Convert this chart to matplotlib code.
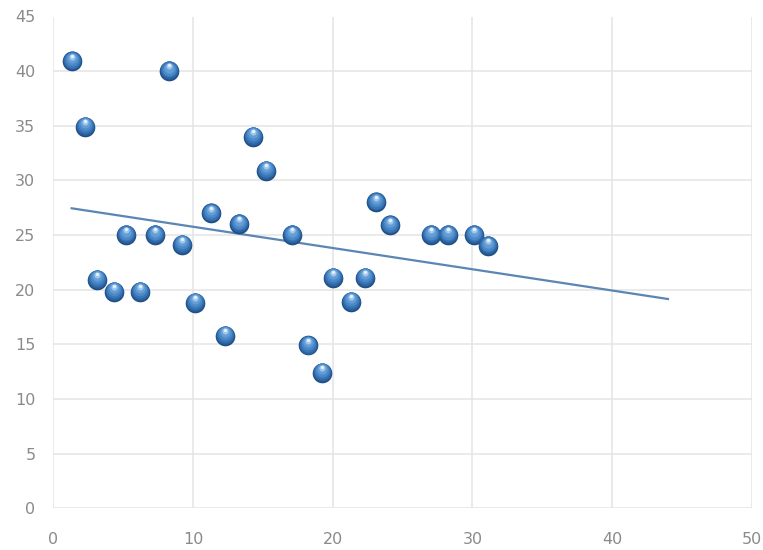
import numpy as np
import matplotlib
matplotlib.use("Agg")
import matplotlib.pyplot as plt
from matplotlib.transforms import ScaledTranslation

# Observations
x_vals = [1.3, 2.25, 3.1, 4.3, 5.2, 6.2, 7.25, 8.3, 9.2, 10.1, 11.3, 12.3,
          13.3, 14.3, 15.25, 17.1, 18.2, 19.2, 20.0, 21.3, 22.3, 23.1, 24.1,
          27.05, 28.25, 30.1, 31.1]
y_vals = [40.9, 34.9, 20.9, 19.8, 25.0, 19.8, 25.0, 40.0, 24.1, 18.8, 27.0,
          15.8, 26.0, 34.0, 30.9, 25.0, 14.9, 12.4, 21.1, 18.9, 21.1, 28.0,
          25.9, 25.0, 25.0, 25.0, 24.0]

x_ticks = [0, 10, 20, 30, 40, 50]
y_ticks = [0, 5, 10, 15, 20, 25, 30, 35, 40, 45]

# Linear trend, extended forward to x = 44
trend_end = 44

fig = plt.figure(figsize=(7.63, 5.5), dpi=100)
ax = fig.add_axes([0.0701, 0.0758, 0.9151, 0.8942])

ax.set_xlim(0, 50)
ax.set_ylim(0, 45)
ax.set_xticks(x_ticks)
ax.set_yticks(y_ticks)
ax.grid(True, color="#e4e4e4", linewidth=1.1)
ax.set_axisbelow(True)
for s in ax.spines.values():
    s.set_visible(False)
ax.tick_params(axis="both", length=0, labelsize=11.5, labelcolor="#8a8a8a")
ax.tick_params(axis="x", pad=17)
ax.tick_params(axis="y", pad=13)

# trend line
slope, intercept = np.polyfit(x_vals, y_vals, 1)
tx = np.array([min(x_vals), trend_end])
ax.plot(tx, slope * tx + intercept, color="#5b86b3", linewidth=1.6, zorder=2)

# glossy spheres: stacked discs shifted upward, then a highlight
layers = [
    (200, "#1f4f85", 0.0),
    (172, "#2b62a0", 0.6),
    (136, "#3975b5", 1.2),
    (96, "#4b88c8", 1.8),
    (54, "#639dd6", 2.5),
    (20, "#9fc6ec", 3.4),
    (6, "#e4f0fc", 4.1),
]
for size, color, dy in layers:
    tr = ax.transData + ScaledTranslation(0, dy / 72, fig.dpi_scale_trans)
    ax.scatter(x_vals, y_vals, s=size, color=color, linewidths=0,
               transform=tr, zorder=3)

fig.savefig("out.png", dpi=100, facecolor="white")
